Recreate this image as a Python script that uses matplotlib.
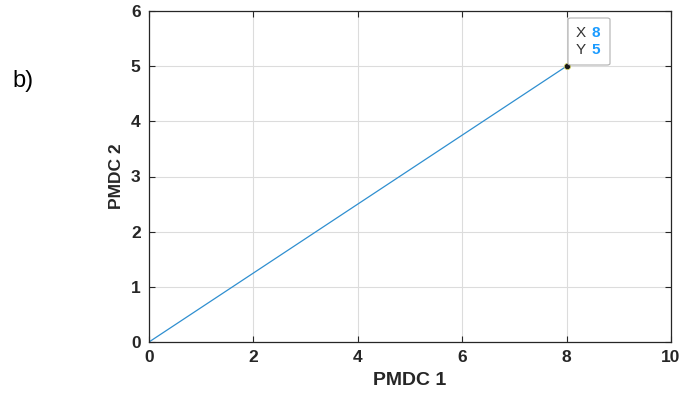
import matplotlib
matplotlib.use('Agg')
import matplotlib.pyplot as plt

plt.rcParams['font.family'] = ['Liberation Sans', 'DejaVu Sans']

# Datos
pmdc1 = [0, 8]
pmdc2 = [0, 5]
tip_x, tip_y = 8, 5

fig = plt.figure(figsize=(6.81, 3.95), dpi=100)
ax = fig.add_axes([149/681, 53/395, 522/681, 331/395])

ax.plot(pmdc1, pmdc2, color='#2f8fd0', linewidth=0.9)
ax.plot([tip_x], [tip_y], 'o', color='#1a1a1a', markersize=4.5,
        markeredgecolor='#d8d860', markeredgewidth=0.5)

ax.set_xlim(0, 10)
ax.set_ylim(0, 6)
ax.set_xticks(range(0, 11, 2))
ax.set_yticks(range(0, 7))
ax.grid(True, color='#dcdcdc', linewidth=0.8)
ax.set_axisbelow(True)
ax.tick_params(direction='in', length=4, width=0.8, labelsize=12.5,
               top=True, right=True, colors='#262626', pad=6)
for lab in ax.get_xticklabels() + ax.get_yticklabels():
    lab.set_fontweight('bold')
for s in ax.spines.values():
    s.set_color('#262626')
    s.set_linewidth(0.9)

ax.set_xlabel('PMDC 1', fontsize=14, fontweight='bold', color='#262626', labelpad=5)
ax.set_ylabel('PMDC 2', fontsize=12.5, fontweight='bold', color='#262626', labelpad=5)

# Datatip
bx0, by0 = 568/681, (395-65)/395
fig.patches.append(matplotlib.patches.FancyBboxPatch(
    (bx0, by0), 42/681, 47/395, boxstyle='round,pad=0,rounding_size=0.004',
    transform=fig.transFigure, facecolor='white', edgecolor='#b0b0b0', linewidth=0.8))
fig.text(576/681, 1 - 33/395, 'X', fontsize=11, color='#333333', va='center')
fig.text(591/681, 1 - 33/395, str(tip_x), fontsize=11, color='#1a9bff', fontweight='bold', va='center')
fig.text(576/681, 1 - 50/395, 'Y', fontsize=11, color='#333333', va='center')
fig.text(591/681, 1 - 50/395, str(tip_y), fontsize=11, color='#1a9bff', fontweight='bold', va='center')

fig.text(12/681, 1 - 81/395, 'b)', fontsize=17, color='black', va='center')

fig.savefig('out.png', dpi=100)
